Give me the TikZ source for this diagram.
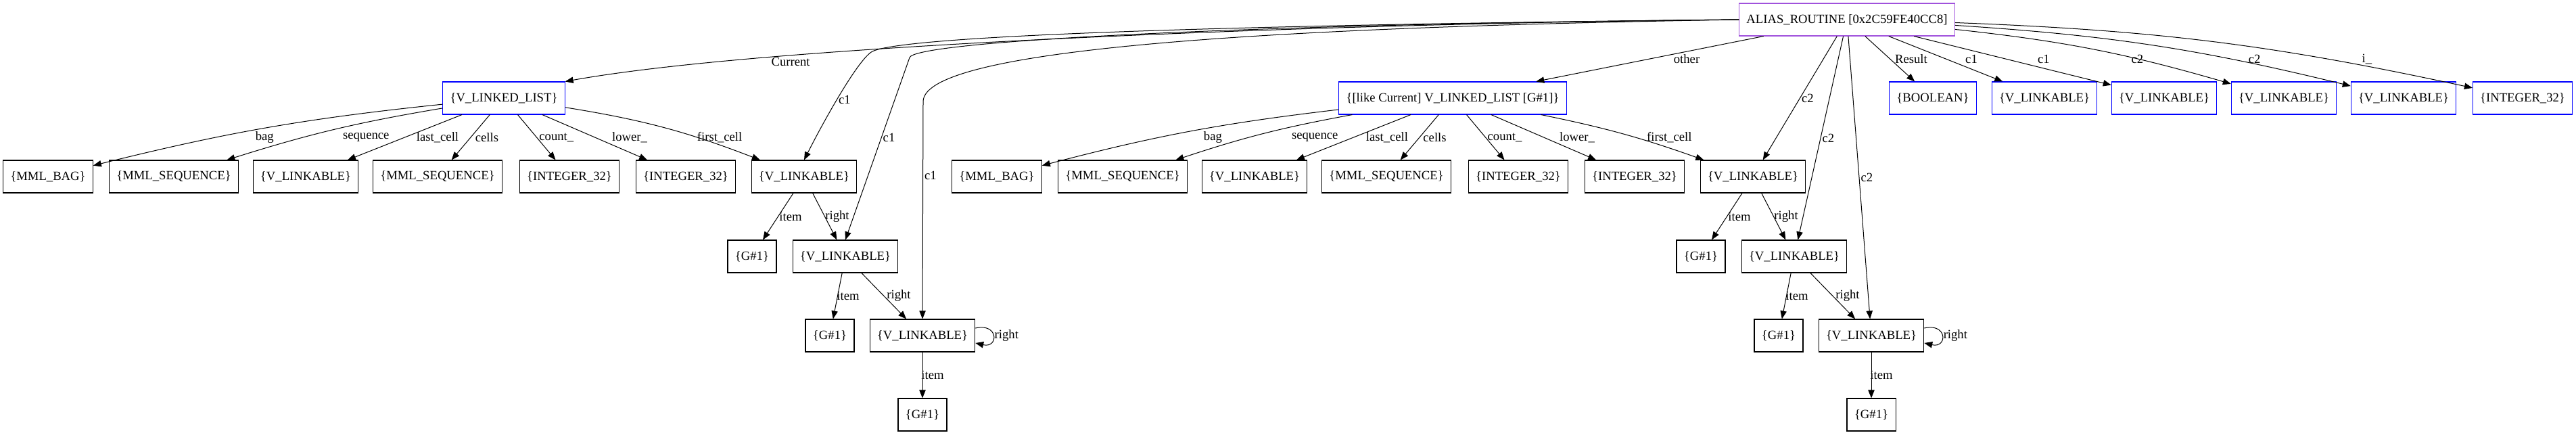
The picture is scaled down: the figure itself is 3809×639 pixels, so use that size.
\documentclass[tikz,border=0pt]{standalone}
\usepackage{fontspec}
\setmainfont{Liberation Serif}
\usetikzlibrary{arrows.meta}
\definecolor{aliaspurple}{RGB}{160,82,220}
\newcommand{\gvfont}{\fontsize{14pt}{16pt}\selectfont}
\tikzset{
  typebox/.style={draw, rectangle, line width=0.8pt, minimum height=36pt, minimum width=54pt, inner xsep=8pt, font=\gvfont},
  bluebox/.style={typebox, draw=blue},
  rootbox/.style={typebox, draw=aliaspurple},
  link/.style={-{Triangle[length=9pt,width=7pt]}, line width=0.75pt},
  lbl/.style={font=\gvfont, inner sep=1.5pt}
}
\begin{document}
\begin{tikzpicture}[x=0.75pt, y=-0.75pt]
          \useasboundingbox (0,0) rectangle (3809,639);
          % Nodes
          \node[rootbox] (routine) at (2731,29) {ALIAS\_ROUTINE [0x2C59FE40CC8]};
          \node[bluebox, below of=routine, node distance=87pt, xshift=-1489.5pt] (current) {\{V\_LINKED\_LIST\}};
          \node[bluebox, below of=routine, node distance=87pt, xshift=-437.25pt] (other) {\{[like Current] V\_LINKED\_LIST [G\#1]\}};
          \node[bluebox, below of=routine, node distance=87pt, xshift=95.25pt] (result) {\{BOOLEAN\}};
          \node[bluebox, right of=result, node distance=123.75pt] (cOneA) {\{V\_LINKABLE\}};
          \node[bluebox, right of=cOneA, node distance=132.75pt] (cOneB) {\{V\_LINKABLE\}};
          \node[bluebox, right of=cOneB, node distance=132.75pt] (cTwoA) {\{V\_LINKABLE\}};
          \node[bluebox, right of=cTwoA, node distance=132.75pt] (cTwoB) {\{V\_LINKABLE\}};
          \node[bluebox, right of=cTwoB, node distance=132pt] (ival) {\{INTEGER\_32\}};

          % Nodes of Current
          \node[typebox, below of=current, node distance=87pt, xshift=-505.5pt] (bag1) {\{MML\_BAG\}};
          \node[typebox, right of=bag1, node distance=139.5pt] (sequence1) {\{MML\_SEQUENCE\}};
          \node[typebox, right of=sequence1, node distance=146.25pt] (lastcell1) {\{V\_LINKABLE\}};
          \node[typebox, right of=lastcell1, node distance=146.25pt] (cells1) {\{MML\_SEQUENCE\}};
          \node[typebox, right of=cells1, node distance=146.25pt] (count1) {\{INTEGER\_32\}};
          \node[typebox, right of=count1, node distance=129pt] (lower1) {\{INTEGER\_32\}};
          \node[typebox, right of=lower1, node distance=131.25pt] (first1) {\{V\_LINKABLE\}};
          \node[typebox, below of=first1, node distance=88.5pt, xshift=-57.75pt] (itemA1) {\{G\#1\}};
          \node[typebox, below of=first1, node distance=88.5pt, xshift=45.75pt] (nextA1) {\{V\_LINKABLE\}};
          \node[typebox, below of=nextA1, node distance=87.75pt, xshift=-17.25pt] (itemA2) {\{G\#1\}};
          \node[typebox, below of=nextA1, node distance=87.75pt, xshift=85.5pt] (nextA2) {\{V\_LINKABLE\}};
          \node[typebox, below of=nextA2, node distance=87.75pt] (itemA3) {\{G\#1\}};

          % Nodes of other
          \node[typebox, below of=other, node distance=87pt, xshift=-505.5pt] (bag2) {\{MML\_BAG\}};
          \node[typebox, right of=bag2, node distance=139.5pt] (sequence2) {\{MML\_SEQUENCE\}};
          \node[typebox, right of=sequence2, node distance=146.25pt] (lastcell2) {\{V\_LINKABLE\}};
          \node[typebox, right of=lastcell2, node distance=146.25pt] (cells2) {\{MML\_SEQUENCE\}};
          \node[typebox, right of=cells2, node distance=146.25pt] (count2) {\{INTEGER\_32\}};
          \node[typebox, right of=count2, node distance=129pt] (lower2) {\{INTEGER\_32\}};
          \node[typebox, right of=lower2, node distance=131.25pt] (first2) {\{V\_LINKABLE\}};
          \node[typebox, below of=first2, node distance=88.5pt, xshift=-57.75pt] (itemB1) {\{G\#1\}};
          \node[typebox, below of=first2, node distance=88.5pt, xshift=45.75pt] (nextB1) {\{V\_LINKABLE\}};
          \node[typebox, below of=nextB1, node distance=87.75pt, xshift=-17.25pt] (itemB2) {\{G\#1\}};
          \node[typebox, below of=nextB1, node distance=87.75pt, xshift=85.5pt] (nextB2) {\{V\_LINKABLE\}};
          \node[typebox, below of=nextB2, node distance=87.75pt] (itemB3) {\{G\#1\}};

          % Arrows from the routine
          \draw[link] (routine.west) .. controls (2000,34) and (1150,64) .. (current.north east)
            node[lbl, pos=0.75, anchor=north, xshift=7.5pt] {Current};
          \draw[link] (routine.west) .. controls (1700,38) and (1330,56) .. (1290,76)
            .. controls (1270,86) and (1219,177) .. (first1.north) node[lbl, pos=0.55, right] {c1};
          \draw[link] (routine.west) .. controls (1800,36) and (1353,62) .. (1345,85)
            -- (nextA1.north) node[lbl, pos=0.44, right] {c1};
          \draw[link] (routine.west) .. controls (1900,40) and (1366,70) .. (1365,150)
            -- (nextA2.north) node[lbl, pos=0.34, right] {c1};
          \draw[link] (routine) -- node[lbl, xshift=40.9pt] {other} (other);
          \draw[link] (routine) -- node[lbl, right] {c2} (first2);
          \draw[link] (routine) -- node[lbl, right] {c2} (nextB1);
          \draw[link] (routine) -- node[lbl, right] {c2} (nextB2);
          \draw[link] (routine) -- node[lbl, xshift=23.6pt] {Result} (result);
          \draw[link] (routine) -- node[lbl, xshift=28.5pt] {c1} (cOneA);
          \draw[link] (routine) -- node[lbl, xshift=34.5pt, yshift=2pt] {c1} (cOneB);
          \draw[link] (routine) to[bend left=5] node[lbl, xshift=47.6pt, yshift=-10.3pt] {c2} (cTwoA);
          \draw[link] (routine) to[bend left=5] node[lbl, xshift=111pt, yshift=-14.8pt] {c2} (cTwoB);
          \draw[link] (routine) to[bend left=5] node[lbl, xshift=168pt, yshift=-18.75pt] {i\_} (ival);

          % Arrows of Current
          \draw[link] (current) to[bend right=4] node[lbl, xshift=-2.25pt, yshift=-10.5pt] {bag} (bag1);
          \draw[link] (current) to[bend right=4] node[lbl, xshift=36pt, yshift=-8.3pt] {sequence} (sequence1);
          \draw[link] (current) -- node[lbl, xshift=36.4pt] {last\_cell} (lastcell1);
          \draw[link] (current) -- node[lbl, xshift=18pt] {cells} (cells1);
          \draw[link] (current) -- node[lbl, xshift=22pt] {count\_} (count1);
          \draw[link] (current) -- node[lbl, xshift=38.6pt] {lower\_} (lower1);
          \draw[link] (current) to[bend left=6] node[lbl, xshift=61.5pt, yshift=-10.5pt] {first\_cell} (first1);
          \draw[link] (first1) -- node[lbl, xshift=13.9pt] {item} (itemA1);
          \draw[link] (first1) -- node[lbl, xshift=13.9pt] {right} (nextA1);
          \draw[link] (nextA1) -- node[lbl, xshift=11.6pt] {item} (itemA2);
          \draw[link] (nextA1) -- node[lbl, xshift=16.5pt] {right} (nextA2);
          \draw[link] (nextA2) -- node[lbl, xshift=11.25pt] {item} (itemA3);
          \draw[link] (nextA2.8) .. controls +(26pt,6pt) and +(26pt,-6pt) .. (nextA2.-8)
            node[lbl, pos=0.5, right] {right};

          % Arrows of other
          \draw[link] (other) to[bend right=4] node[lbl, xshift=26.25pt, yshift=-6.4pt] {bag} (bag2);
          \draw[link] (other) to[bend right=4] node[lbl, xshift=57.5pt, yshift=-4pt] {sequence} (sequence2);
          \draw[link] (other) -- node[lbl, xshift=37.1pt] {last\_cell} (lastcell2);
          \draw[link] (other) -- node[lbl, xshift=16.9pt] {cells} (cells2);
          \draw[link] (other) -- node[lbl, xshift=21.4pt] {count\_} (count2);
          \draw[link] (other) -- node[lbl, xshift=37.1pt] {lower\_} (lower2);
          \draw[link] (other) to[bend left=4] node[lbl, xshift=51pt, yshift=-3.75pt] {first\_cell} (first2);
          \draw[link] (first2) -- node[lbl, xshift=13.9pt] {item} (itemB1);
          \draw[link] (first2) -- node[lbl, xshift=13.9pt] {right} (nextB1);
          \draw[link] (nextB1) -- node[lbl, xshift=11.6pt] {item} (itemB2);
          \draw[link] (nextB1) -- node[lbl, xshift=16.5pt] {right} (nextB2);
          \draw[link] (nextB2) -- node[lbl, xshift=11.25pt] {item} (itemB3);
          \draw[link] (nextB2.8) .. controls +(26pt,6pt) and +(26pt,-6pt) .. (nextB2.-8)
            node[lbl, pos=0.5, right] {right};
        \end{tikzpicture}
\end{document}
